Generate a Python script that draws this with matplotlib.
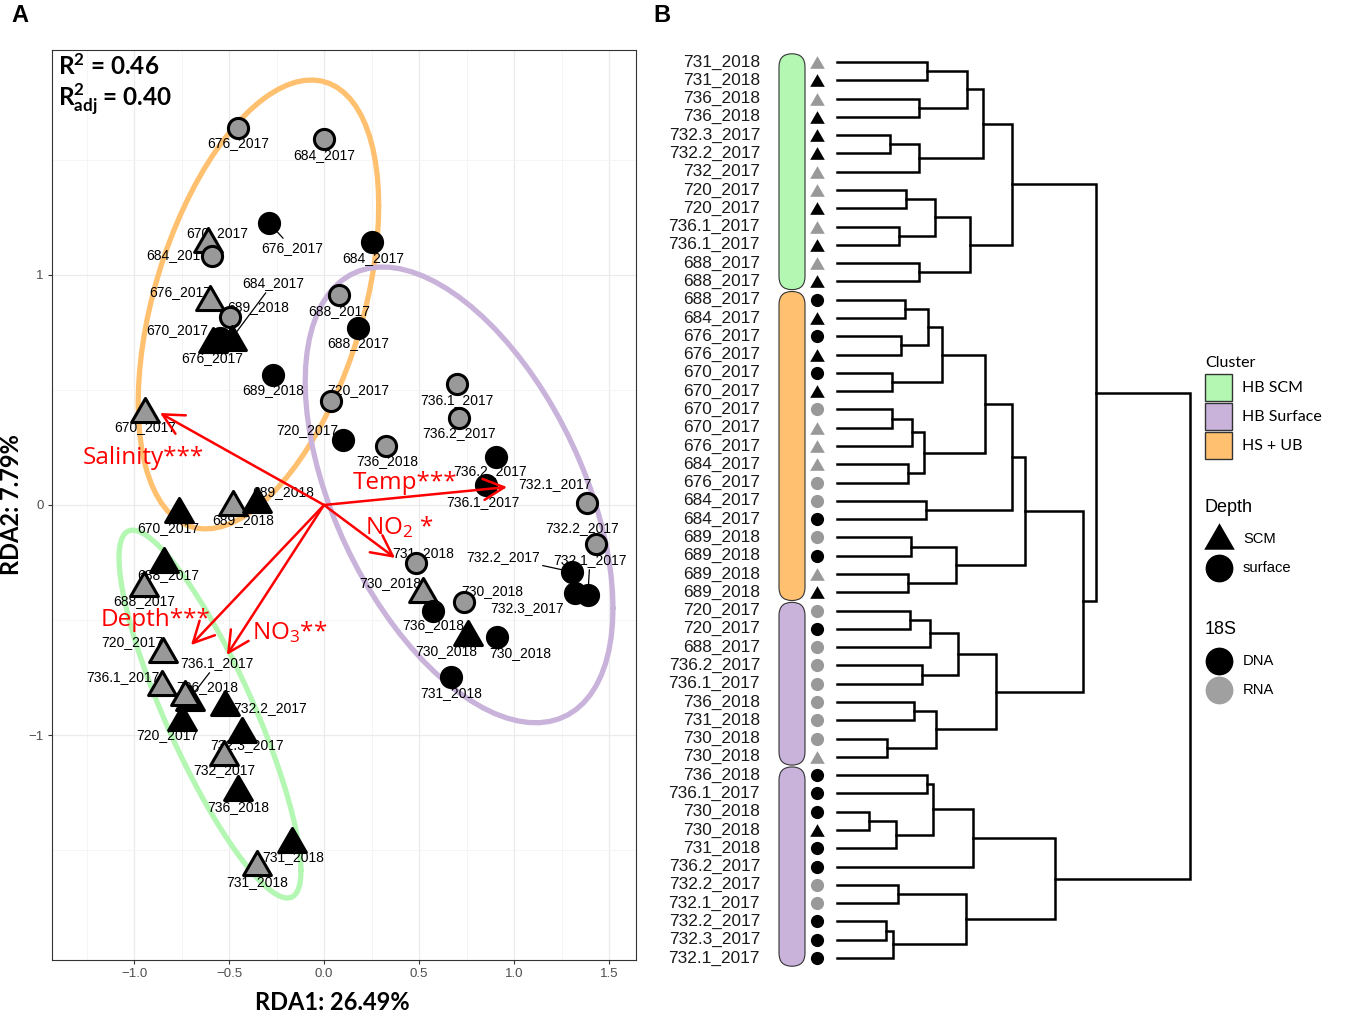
import numpy as np
import matplotlib
matplotlib.use('Agg')
import matplotlib.pyplot as plt
from matplotlib.path import Path
from matplotlib.patches import FancyBboxPatch, Rectangle

plt.rcParams['font.family'] = ['Liberation Sans', 'DejaVu Sans']
plt.rcParams['mathtext.fontset'] = 'custom'
plt.rcParams['mathtext.rm'] = 'Lato'
plt.rcParams['mathtext.bf'] = 'Lato:bold'

# ---------------- data: panel A (RDA) ----------------
rda_lab = ['676_2017', '684_2017', '676_2017', '684_2017', '670_2017', '684_2017', '676_2017', '689_2018',
           '684_2017', '676_2017', '670_2017', '689_2018', '670_2017', '670_2017', '689_2018', '689_2018', '688_2017',
           '688_2017', '720_2017', '720_2017', '736_2018', '736.1_2017', '736.2_2017', '736.2_2017', '736.1_2017',
           '732.1_2017', '732.2_2017', '732.2_2017', '732.3_2017', '732.1_2017', '731_2018', '730_2018', '736_2018',
           '730_2018', '730_2018', '730_2018', '731_2018',
           '688_2017', '688_2017', '720_2017', '736.1_2017', '736.1_2017', '736_2018', '720_2017', '732.2_2017',
           '732.3_2017', '732_2017', '736_2018', '731_2018', '731_2018']
rda1 = [-0.453, 0.000, -0.289, 0.253, -0.611, -0.589, -0.600, -0.495,
        -0.484, -0.584, -0.547, -0.268, -0.942, -0.763, -0.479, -0.353, 0.179,
        0.079, 0.037, 0.100, 0.326, 0.700, 0.711, 0.905, 0.853,
        1.384, 1.432, 1.305, 1.321, 1.389, 0.484, 0.521, 0.574,
        0.737, 0.758, 0.911, 0.668,
        -0.842, -0.947, -0.847, -0.853, -0.705, -0.732, -0.747, -0.521,
        -0.432, -0.526, -0.453, -0.168, -0.353]
rda2 = [1.639, 1.591, 1.226, 1.143, 1.152, 1.083, 0.900, 0.817,
        0.726, 0.717, 0.726, 0.565, 0.413, -0.022, 0.009, 0.022, 0.770,
        0.913, 0.452, 0.283, 0.257, 0.526, 0.378, 0.209, 0.087,
        0.009, -0.170, -0.291, -0.383, -0.391, -0.252, -0.370, -0.461,
        -0.422, -0.557, -0.574, -0.748,
        -0.239, -0.343, -0.630, -0.774, -0.839, -0.817, -0.926, -0.861,
        -0.978, -1.078, -1.230, -1.457, -1.557]
rda_depth = ['surface', 'surface', 'surface', 'surface', 'SCM', 'surface', 'SCM', 'surface',
             'SCM', 'SCM', 'surface', 'surface', 'SCM', 'SCM', 'SCM', 'SCM', 'surface',
             'surface', 'surface', 'surface', 'surface', 'surface', 'surface', 'surface', 'surface',
             'surface', 'surface', 'surface', 'surface', 'surface', 'surface', 'SCM', 'surface',
             'surface', 'SCM', 'surface', 'surface',
             'SCM', 'SCM', 'SCM', 'SCM', 'SCM', 'SCM', 'SCM', 'SCM',
             'SCM', 'SCM', 'SCM', 'SCM', 'SCM']
rda_18s = ['RNA', 'RNA', 'DNA', 'DNA', 'RNA', 'RNA', 'RNA', 'RNA',
           'DNA', 'DNA', 'DNA', 'DNA', 'RNA', 'DNA', 'RNA', 'DNA', 'DNA',
           'RNA', 'RNA', 'DNA', 'RNA', 'RNA', 'RNA', 'DNA', 'DNA',
           'RNA', 'RNA', 'DNA', 'DNA', 'DNA', 'RNA', 'RNA', 'DNA',
           'RNA', 'DNA', 'DNA', 'DNA',
           'DNA', 'RNA', 'RNA', 'RNA', 'DNA', 'RNA', 'DNA', 'DNA',
           'DNA', 'RNA', 'DNA', 'DNA', 'RNA']

# cluster ellipses: centre, spread along RDA1 / RDA2 and their correlation
ell_cluster = ['HS + UB', 'HB Surface', 'HB SCM']
ell_cx = [-0.345, 0.711, -0.600]
ell_cy = [0.872, 0.044, -0.909]
ell_sx = [0.633, 0.810, 0.479]
ell_sy = [0.976, 0.991, 0.800]
ell_r = [0.439, -0.497, -0.850]

env_name = ['Salinity***', 'Temp***', r'$\mathregular{NO_2}$ *', 'Depth***', r'$\mathregular{NO_3}$**']
env_rda1 = [-0.863, 0.963, 0.374, -0.700, -0.511]
env_rda2 = [0.400, 0.078, -0.230, -0.609, -0.652]

r2 = 0.46
r2_adj = 0.40

x_ticks = [-1.0, -0.5, 0.0, 0.5, 1.0, 1.5]
x_ticklabels = ['\u22121.0', '\u22120.5', '0.0', '0.5', '1.0', '1.5']
y_ticks = [-1, 0, 1]
y_ticklabels = ['\u22121', '0', '1']

# ---------------- data: panel B (dendrogram) ----------------
leaf_lab = ['731_2018', '731_2018', '736_2018', '736_2018', '732.3_2017', '732.2_2017', '732_2017',
            '720_2017', '720_2017', '736.1_2017', '736.1_2017', '688_2017', '688_2017',
            '688_2017', '684_2017', '676_2017', '676_2017', '670_2017', '670_2017', '670_2017',
            '670_2017', '676_2017', '684_2017', '676_2017', '684_2017', '684_2017',
            '689_2018', '689_2018', '689_2018', '689_2018',
            '720_2017', '720_2017', '688_2017', '736.2_2017', '736.1_2017', '736_2018', '731_2018',
            '730_2018', '730_2018',
            '736_2018', '736.1_2017', '730_2018', '730_2018', '731_2018', '736.2_2017', '732.2_2017',
            '732.1_2017', '732.2_2017', '732.3_2017', '732.1_2017']
leaf_depth = ['SCM'] * 13 + ['surface', 'SCM', 'surface', 'SCM', 'surface', 'SCM', 'surface',
              'SCM', 'SCM', 'SCM', 'surface', 'surface', 'surface', 'surface', 'surface', 'SCM', 'SCM'] + \
             ['surface'] * 8 + ['SCM'] + ['surface', 'surface', 'surface', 'SCM'] + ['surface'] * 7
leaf_18s = ['RNA', 'DNA', 'RNA', 'DNA', 'DNA', 'DNA', 'RNA', 'RNA', 'DNA', 'RNA', 'DNA', 'RNA', 'DNA',
            'DNA', 'DNA', 'DNA', 'DNA', 'DNA', 'DNA', 'RNA', 'RNA', 'RNA', 'RNA', 'RNA', 'RNA', 'DNA',
            'RNA', 'DNA', 'RNA', 'DNA',
            'RNA', 'DNA', 'RNA', 'RNA', 'RNA', 'RNA', 'RNA', 'RNA', 'RNA',
            'DNA', 'DNA', 'DNA', 'DNA', 'DNA', 'DNA', 'RNA', 'RNA', 'DNA', 'DNA', 'DNA']
cut_sizes = [13, 17, 9, 11]
cut_cluster = ['HB SCM', 'HS + UB', 'HB Surface', 'HB Surface']

# merges: (node a, node b, height); node ids >= 50 refer to earlier merges
merges = [(0, 1, 0.90), (2, 3, 0.82), (50, 51, 1.30), (4, 5, 0.53), (53, 6, 0.82), (52, 54, 1.46),
          (7, 8, 0.69), (9, 10, 0.62), (56, 57, 0.98), (11, 12, 0.82), (58, 59, 1.33), (55, 60, 1.75),
          (13, 14, 0.68), (15, 16, 0.64), (62, 63, 0.91), (17, 18, 0.55), (64, 65, 1.05),
          (19, 20, 0.55), (67, 21, 0.75), (22, 23, 0.71), (68, 69, 0.87), (66, 70, 1.48),
          (24, 25, 0.89), (71, 72, 1.75), (26, 27, 0.74), (28, 29, 0.71), (74, 75, 1.19), (73, 76, 1.88),
          (30, 31, 0.73), (78, 32, 0.93), (33, 34, 0.85), (79, 80, 1.21), (35, 36, 0.77), (37, 38, 0.50),
          (82, 83, 0.99), (81, 84, 1.59), (77, 85, 2.46), (61, 86, 2.59),
          (39, 40, 0.90), (41, 42, 0.32), (89, 43, 0.59), (88, 90, 0.96), (91, 44, 1.36),
          (45, 46, 0.61), (47, 48, 0.49), (94, 49, 0.56), (93, 95, 1.29), (92, 96, 2.18), (87, 97, 3.53)]

cluster_col = {'HB SCM': '#B3F7B3', 'HB Surface': '#C9B3DB', 'HS + UB': '#FFC170'}
gray = '#999999'

W, H = 1358, 1014
fig = plt.figure(figsize=(W / 100, H / 100), dpi=100)


def px_axes(x0, y0, x1, y1):
  return fig.add_axes([x0 / W, 1 - y1 / H, (x1 - x0) / W, (y1 - y0) / H])


tri = Path([(-1, -0.866), (1, -0.866), (0, 0.866), (-1, -0.866)],
           [Path.MOVETO, Path.LINETO, Path.LINETO, Path.CLOSEPOLY])


def ellipse_xy(cx, cy, sx, sy, r, segments=80):
  shape = np.array([[sx * sx, r * sx * sy], [r * sx * sy, sy * sy]])
  ang = np.linspace(0, 2 * np.pi, segments + 1)
  circle = np.column_stack([np.cos(ang), np.sin(ang)])
  ell = np.array([cx, cy]) + circle @ np.linalg.cholesky(shape).T
  return ell[:, 0], ell[:, 1]


# ---------------- panel A ----------------
axA = px_axes(52, 50, 636, 960)
axA.set_xlim((52 - 324) / 190, (636 - 324) / 190)
axA.set_ylim(-455 / 230, 455 / 230)
axA.set_xticks(x_ticks)
axA.set_xticklabels(x_ticklabels)
axA.set_yticks(y_ticks)
axA.set_yticklabels(y_ticklabels)
axA.set_xticks([-1.25, -0.75, -0.25, 0.25, 0.75, 1.25], minor=True)
axA.set_yticks([-1.5, -0.5, 0.5, 1.5], minor=True)
axA.grid(which='major', color='#EBEBEB', lw=0.9)
axA.grid(which='minor', color='#F4F4F4', lw=0.6)
axA.set_axisbelow(True)
axA.tick_params(which='major', length=3, color='#333333', labelsize=9.5, labelcolor='#4D4D4D', pad=3)
axA.tick_params(which='minor', length=0)
for s in axA.spines.values():
  s.set_color('#333333')
  s.set_linewidth(0.8)

for i, cl in enumerate(ell_cluster):
  ex, ey = ellipse_xy(ell_cx[i], ell_cy[i], ell_sx[i], ell_sy[i], ell_r[i])
  axA.plot(ex, ey, color=cluster_col[cl], lw=3.8, zorder=2, solid_capstyle='round')

# label offsets from the point, in pixels (right, down); 1 = leader line
lab_off = [(0, 15, 0), (0, 16, 0), (23, 25, 1), (1, 16, 0), (9, -7, 0), (-35, -1, 0), (-30, -6, 0), (28, -10, 0),
           (41, -55, 1), (-1, 18, 0), (-43, -8, 0), (0, 15, 0), (0, 17, 0), (-11, 18, 0), (10, 17, 0), (26, -8, 0),
           (0, 15, 0),
           (0, 16, 0), (27, -11, 0), (-36, -10, 0), (1, 15, 0), (0, 16, 0), (0, 15, 0), (-6, 14, 0), (-3, 17, 0),
           (-32, -19, 0), (-14, -16, 0), (-69, -15, 1), (-48, 15, 0), (2, -35, 1), (7, -10, 0), (-33, -7, 0),
           (0, 14, 0), (28, -11, 0), (-22, 18, 0), (23, 16, 0), (0, 16, 0),
           (4, 15, 0), (0, 17, 0), (-31, -8, 0), (-39, -6, 0), (27, -35, 1), (22, -6, 0), (-15, 17, 0),
           (45, 5, 0), (5, 15, 0), (0, 17, 0), (0, 19, 0), (1, 17, 0), (0, 19, 0)]

for i, lab in enumerate(rda_lab):
  dx, dy, lead = lab_off[i]
  props = dict(arrowstyle='-', color='black', lw=0.9, shrinkA=0, shrinkB=0) if lead else None
  axA.annotate(lab, xy=(rda1[i], rda2[i]), xytext=(dx * 0.72, -dy * 0.72), textcoords='offset points',
               ha='center', va='center', fontsize=10, color='black', arrowprops=props, zorder=3)

for i in range(len(rda1)):
  face = gray if rda_18s[i] == 'RNA' else 'black'
  if rda_depth[i] == 'SCM':
    axA.plot(rda1[i], rda2[i], marker=tri, ms=20, mfc=face, mec='black', mew=2.2, ls='none',
             zorder=4 + i * 0.01)
  else:
    axA.plot(rda1[i], rda2[i], marker='o', ms=14.5, mfc=face, mec='black', mew=2.2, ls='none',
             zorder=4 + i * 0.01)

env_text_xy = [(-0.953, 0.204), (0.426, 0.096), (0.395, -0.096), (-0.889, -0.500), (-0.180, -0.552)]
for i, name in enumerate(env_name):
  axA.annotate('', xy=(env_rda1[i], env_rda2[i]), xytext=(0, 0),
               arrowprops=dict(arrowstyle='->,head_length=0.75,head_width=0.38', color='red', lw=1.8,
                               shrinkA=0, shrinkB=0, mutation_scale=20), zorder=6)
  axA.text(env_text_xy[i][0], env_text_xy[i][1], name, color='red', fontsize=17.5, family='Open Sans',
           ha='center', va='center', zorder=7)

fig.text(58 / W, 1 - 75 / H, r'$\mathbf{R^2}$ = %.2f' % r2, fontsize=17.5, fontweight='bold', family='Lato',
         va='baseline', ha='left')
fig.text(58 / W, 1 - 107 / H, r'$\mathbf{R^2_{adj}}$ = %.2f' % r2_adj, fontsize=17.5, fontweight='bold',
         family='Lato', va='baseline', ha='left')

fig.text(332 / W, 1 - 1003 / H, 'RDA1: 26.49%', fontsize=17, fontweight='bold', family='Lato',
         ha='center', va='center')
fig.text(12 / W, 1 - 505 / H, 'RDA2: 7.79%', fontsize=17, fontweight='bold', family='Lato',
         ha='center', va='center', rotation=90)
fig.text(20 / W, 1 - 15 / H, 'A', fontsize=17, fontweight='bold', ha='center', va='center')
fig.text(662 / W, 1 - 15 / H, 'B', fontsize=17, fontweight='bold', ha='center', va='center')

# ---------------- panel B ----------------
axB = px_axes(660, 50, 1200, 970)
axB.set_xlim(-1.77, 3.63)
axB.set_ylim(49.656, -0.656)
axB.axis('off')

n_leaf = len(leaf_lab)
for i in range(n_leaf):
  axB.text(-0.77, i, leaf_lab[i], ha='right', va='center', fontsize=12.4, color='#1A1A1A')
  face = gray if leaf_18s[i] == 'RNA' else 'black'
  if leaf_depth[i] == 'SCM':
    axB.plot(-0.20, i, marker=tri, ms=10.5, mfc=face, mec='none', ls='none')
  else:
    axB.plot(-0.20, i, marker='o', ms=9.5, mfc=face, mec='none', ls='none')

start = 0
for size, cl in zip(cut_sizes, cut_cluster):
  box = FancyBboxPatch((-0.58, start - 0.45), 0.26, size - 0.1, boxstyle='round,pad=0,rounding_size=0.13',
                       mutation_aspect=5.47, fc=cluster_col[cl], ec='#333333', lw=0.8)
  axB.add_patch(box)
  start += size

node_y = {i: float(i) for i in range(n_leaf)}
node_h = {i: 0.0 for i in range(n_leaf)}
for k, (a, b, h) in enumerate(merges):
  axB.plot([node_h[a], h, h, node_h[b]], [node_y[a], node_y[a], node_y[b], node_y[b]],
           color='black', lw=1.8, solid_joinstyle='miter')
  node_y[n_leaf + k] = (node_y[a] + node_y[b]) / 2
  node_h[n_leaf + k] = h

# ---------------- legend ----------------
axL = px_axes(1195, 350, 1358, 710)
axL.set_xlim(1195, 1358)
axL.set_ylim(710, 350)
axL.axis('off')
axL.text(1205, 363, 'Cluster', fontsize=11.5, family='Lato', va='center', ha='left')
for j, cl in enumerate(['HB SCM', 'HB Surface', 'HS + UB']):
  axL.add_patch(Rectangle((1205, 374 + j * 29), 27, 27, fc=cluster_col[cl], ec='#333333', lw=1))
  axL.text(1242, 388 + j * 29, cl, fontsize=11.5, family='Lato', va='center', ha='left')

axL.text(1205, 507, 'Depth', fontsize=13, va='center', ha='left')
axL.plot(1219, 536, marker=tri, ms=22, mfc='black', mec='none', ls='none')
axL.plot(1219, 568, marker='o', ms=20, mfc='black', mec='none', ls='none')
axL.text(1243, 539, 'SCM', fontsize=10.6, va='center', ha='left')
axL.text(1243, 568, 'surface', fontsize=10.6, va='center', ha='left')

axL.text(1205, 629, '18S', fontsize=13, va='center', ha='left')
axL.plot(1219, 661, marker='o', ms=20, mfc='black', mec='none', ls='none')
axL.plot(1219, 690, marker='o', ms=20, mfc='#A0A0A0', mec='none', ls='none')
axL.text(1243, 661, 'DNA', fontsize=10.6, va='center', ha='left')
axL.text(1243, 690, 'RNA', fontsize=10.6, va='center', ha='left')

fig.savefig('out.png', dpi=100)
